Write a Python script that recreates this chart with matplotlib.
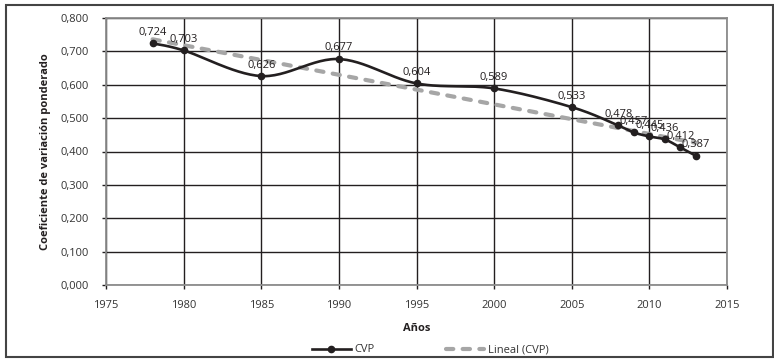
import numpy as np
import matplotlib.pyplot as plt
from matplotlib.ticker import FuncFormatter
from matplotlib.lines import Line2D

plt.rcParams['font.family'] = ['Open Sans', 'DejaVu Sans']

years = [1978, 1980, 1985, 1990, 1995, 2000, 2005, 2008, 2009, 2010, 2011, 2012, 2013]
cvp = [0.724, 0.703, 0.626, 0.677, 0.604, 0.589, 0.533, 0.478, 0.457, 0.445, 0.436, 0.412, 0.387]


def smooth(x, y, n=30):
    # Catmull-Rom style smoothing, like Excel's smoothed line
    x = np.asarray(x, float)
    y = np.asarray(y, float)
    px = np.concatenate([[x[0]], x, [x[-1]]])
    py = np.concatenate([[y[0]], y, [y[-1]]])
    xs, ys = [], []
    for i in range(1, len(px) - 2):
        p0, p1, p2, p3 = (np.array([px[j], py[j]]) for j in range(i - 1, i + 3))
        c1 = p1 + (p2 - p0) / 6
        c2 = p2 - (p3 - p1) / 6
        t = np.linspace(0, 1, n)[:, None]
        b = (1 - t) ** 3 * p1 + 3 * (1 - t) ** 2 * t * c1 + 3 * (1 - t) * t ** 2 * c2 + t ** 3 * p2
        xs.extend(b[:, 0])
        ys.extend(b[:, 1])
    return np.array(xs), np.array(ys)


black = '#231f20'
grey = '#a6a6a6'

fig = plt.figure(figsize=(7.74, 3.6), dpi=100)
ax = fig.add_axes([106 / 774, 75 / 360, 621 / 774, 267 / 360])

# linear trend
coef = np.polyfit(years, cvp, 1)
tx = np.array([years[0], years[-1]])
ax.plot(tx, np.polyval(coef, tx), color=grey, lw=3, ls=(0, (1.75, 2.25)),
        dash_capstyle='round', zorder=2)

sx, sy = smooth(years, cvp)
ax.plot(sx, sy, color=black, lw=1.9, zorder=3)
ax.plot(years, cvp, 'o', color=black, ms=4.5, zorder=4)

for x, y in zip(years, cvp):
    ax.annotate(f'{y:.3f}'.replace('.', ','), (x, y), xytext=(0, 4),
                textcoords='offset points', ha='center', va='bottom', fontsize=8,
                color=black, zorder=5)

ax.set_xlim(1975, 2015)
ax.set_ylim(0, 0.8)
ax.set_xticks(range(1975, 2016, 5))
ax.set_yticks(np.arange(0, 0.81, 0.1))
ax.yaxis.set_major_formatter(FuncFormatter(lambda v, p: f'{v:.3f}'.replace('.', ',')))
ax.grid(True, color=black, lw=1)
ax.set_axisbelow(True)
for s in ax.spines.values():
    s.set_color('#8c8c8c')
    s.set_linewidth(1.3)
ax.tick_params(length=3, width=1, color=black, labelsize=8, labelcolor='#333333')
ax.tick_params(axis='x', pad=8)
ax.tick_params(axis='y', pad=9)

ax.set_xlabel('Años', fontsize=8, fontweight='bold', color=black)
ax.xaxis.set_label_coords(0.5, -0.142)
ax.set_ylabel('Coeficiente de variación ponderado', fontsize=8, fontweight='bold', color=black)
ax.yaxis.set_label_coords(-0.088, 0.5)

h_cvp = Line2D([], [], color=black, lw=1.9, marker='o', ms=4.5)
h_lin = Line2D([], [], color=grey, lw=3, ls=(0, (1.75, 2.25)), dash_capstyle='round')
fig.legend([h_cvp, h_lin], ['CVP', 'Lineal (CVP)'], loc='center left',
           bbox_to_anchor=(312 / 774, 1 - 350 / 360), ncol=2, frameon=False,
           fontsize=8, handlelength=3.5, handletextpad=0.3, columnspacing=6.4,
           borderpad=0, borderaxespad=0, labelcolor='#333333')

fig.patches.append(plt.Rectangle((6 / 774, 3 / 360), 767 / 774, 352 / 360,
                                 transform=fig.transFigure, fill=False,
                                 edgecolor='#444444', lw=1.5))

fig.savefig('out.png', dpi=100)
